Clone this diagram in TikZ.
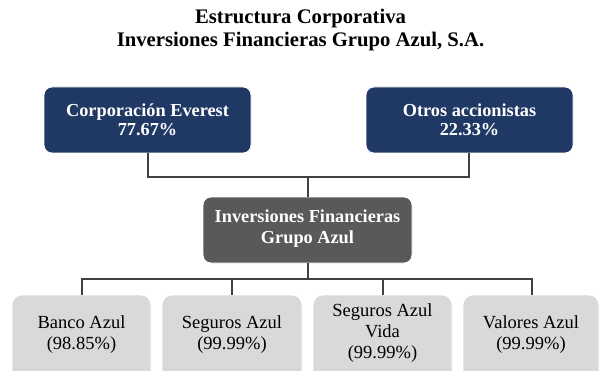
\documentclass[tikz,border=0pt]{standalone}
\usepackage{fontspec}
\setmainfont{Liberation Serif}
\definecolor{navy}{HTML}{1F3864}
\definecolor{midgray}{HTML}{595959}
\definecolor{lightgray}{HTML}{D9D9D9}
\definecolor{linegray}{HTML}{404040}
\begin{document}
\begin{tikzpicture}[x=1pt,y=-1pt,
  topbox/.style={fill=navy,draw=white,line width=0.8pt,rounded corners=8pt,text=white,font=\fontsize{18.3}{18.5}\selectfont\bfseries,align=center},
  midbox/.style={fill=midgray,draw=white,line width=0.8pt,rounded corners=8pt,text=white,font=\fontsize{18.3}{21}\selectfont\bfseries,align=center},
  lowbox/.style={fill=lightgray,draw=white,line width=0.8pt,rounded corners=10pt,text=black,font=\fontsize{18.5}{21}\selectfont,align=center},
  conn/.style={draw=linegray,line width=1.8pt}]
\useasboundingbox (0,0) rectangle (601,371);
\clip (0,0) rectangle (601,371);
\node[font=\fontsize{20.7}{23}\selectfont\bfseries,align=center] (title) at (300.5,30.5) {Estructura Corporativa\\Inversiones Financieras Grupo Azul, S.A.};
% top boxes
\path[topbox] (44,87) rectangle (251,153);
\node[topbox,draw=none,fill=none] (ce) at (147.5,120) {Corporación Everest\\77.67\%};
\path[topbox] (366,87) rectangle (573,153);
\node[topbox,draw=none,fill=none] (oa) at (469.5,120) {Otros accionistas\\22.33\%};
% mid
\path[midbox] (203,197) rectangle (412,263);
\node[midbox,draw=none,fill=none] (ifg) at (307.5,229) {Inversiones Financieras\\Grupo Azul};
% bottom
\path[lowbox] (12,295) rectangle (151,395);
\node[lowbox,draw=none,fill=none] (b1) at (81.5,335) {Banco Azul\\(98.85\%)};
\path[lowbox] (162,295) rectangle (302,395);
\node[lowbox,draw=none,fill=none] (b2) at (232,335) {Seguros Azul\\(99.99\%)};
\path[lowbox] (313,295) rectangle (452,395);
\node[lowbox,draw=none,fill=none] (b3) at (382.5,333) {Seguros Azul\\Vida\\(99.99\%)};
\path[lowbox] (463,295) rectangle (599,395);
\node[lowbox,draw=none,fill=none] (b4) at (531,335) {Valores Azul\\(99.99\%)};
% coordinates
\coordinate (ceb) at (148,153);
\coordinate (oab) at (469,153);
\coordinate (ifgt) at (308,197);
\coordinate (ifgb) at (308,263);
\coordinate (j1) at (148,177);
\coordinate (j2) at (469,177);
\coordinate (jm) at (308,177);
\coordinate (h1) at (82,279);
\coordinate (h4) at (532,279);
\coordinate (hm) at (308,279);
\draw[conn] (ceb) -- (j1) -- (j2) -- (oab);
\draw[conn] (jm) -- (ifgt);
\draw[conn] (ifgb) -- (hm);
\draw[conn] (h1) -- (h4);
\draw[conn] (82,278.1) -- (82,295);
\draw[conn] (232,278.1) -- (232,295);
\draw[conn] (383,278.1) -- (383,295);
\draw[conn] (532,278.1) -- (532,295);
\end{tikzpicture}
\end{document}
